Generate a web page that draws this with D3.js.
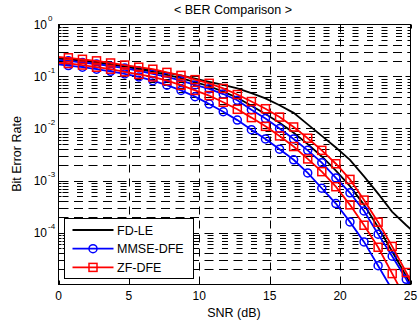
<!DOCTYPE html>
<html>
<head>
<meta charset="utf-8">
<script src="https://cdn.jsdelivr.net/npm/d3@7"></script>
<style>
  body { margin: 0; background: #fff; }
  svg { display: block; font-family: Arial, "Liberation Sans", sans-serif; }
</style>
</head>
<body>
<svg id="chart" width="419" height="325"></svg>
<script>
// SNR points (dB) where the curves were sampled
const snr = [-0.3, 0.7, 1.7, 2.7, 3.7, 4.7, 5.7, 6.7, 7.7, 8.7, 9.7, 10.7, 11.7, 12.7,
             13.7, 14.7, 15.7, 16.7, 17.7, 18.7, 19.7, 20.7, 21.7, 22.7, 23.7, 24.7, 25.7];

// BER values (two runs per equaliser)
const fdleA = [0.229, 0.219, 0.209, 0.191, 0.174, 0.158, 0.145, 0.132, 0.117, 0.105, 9.1e-2, 7.9e-2, 6.9e-2, 5.9e-2,
               4.8e-2, 3.8e-2, 2.8e-2, 2.0e-2, 1.2e-2, 7.2e-3, 4.3e-3, 2.5e-3, 1.2e-3, 5.6e-4, 2.5e-4, 1.38e-4, 7.9e-5];
const fdleB = [0.224, 0.214, 0.200, 0.186, 0.170, 0.155, 0.138, 0.123, 0.107, 9.3e-2, 7.8e-2, 6.5e-2, 5.1e-2, 3.9e-2,
               2.75e-2, 1.9e-2, 1.29e-2, 8.3e-3, 5.0e-3, 2.9e-3, 1.55e-3, 7.8e-4, 3.4e-4, 1.26e-4, 4.3e-5, 1.45e-5, 4.5e-6];
const mmseA = [0.174, 0.162, 0.151, 0.138, 0.126, 0.112, 9.8e-2, 8.3e-2, 6.8e-2, 5.4e-2, 4.1e-2, 2.95e-2, 2.1e-2, 1.45e-2,
               9.5e-3, 6.3e-3, 4.0e-3, 2.5e-3, 1.4e-3, 7.1e-4, 3.6e-4, 1.6e-4, 6.6e-5, 2.3e-5, 7.9e-6, 2.5e-6, 7.9e-7];
const mmseB = [0.209, 0.200, 0.186, 0.174, 0.158, 0.145, 0.129, 0.112, 9.8e-2, 8.3e-2, 6.9e-2, 5.8e-2, 4.6e-2, 3.5e-2,
               2.3e-2, 1.55e-2, 1.0e-2, 6.3e-3, 3.8e-3, 2.2e-3, 1.12e-3, 5.8e-4, 2.6e-4, 9.3e-5, 3.5e-5, 1.26e-5, 4.0e-6];
const zfA   = [0.186, 0.178, 0.166, 0.151, 0.138, 0.123, 0.110, 9.8e-2, 8.3e-2, 6.8e-2, 5.4e-2, 4.3e-2, 3.2e-2, 2.34e-2,
               1.62e-2, 1.1e-2, 7.2e-3, 4.5e-3, 2.6e-3, 1.48e-3, 7.6e-4, 3.4e-4, 1.38e-4, 5.2e-5, 1.62e-5, 5.0e-6, 1.6e-6];
const zfB   = [0.240, 0.229, 0.214, 0.200, 0.182, 0.166, 0.151, 0.138, 0.120, 0.105, 8.7e-2, 7.4e-2, 5.9e-2, 4.5e-2,
               3.3e-2, 2.4e-2, 1.66e-2, 1.07e-2, 6.5e-3, 3.8e-3, 2.1e-3, 1.05e-3, 4.2e-4, 1.58e-4, 5.4e-5, 1.7e-5, 5.0e-6];

const xTicks = [0, 5, 10, 15, 20, 25];
const yLabelExps = [0, -1, -2, -3, -4];
const legendLabels = ['FD-LE', 'MMSE-DFE', 'ZF-DFE'];

const svg = d3.select('#chart');
const pLeft = 58.5, pRight = 410.5, pTop = 24.5, pBottom = 284.5;

const x = d3.scaleLinear().domain([0, 25]).range([pLeft, pRight]);
const y = d3.scaleLog().domain([1e-5, 1]).range([pBottom, pTop]);

svg.append('rect').attr('width', 419).attr('height', 325).attr('fill', '#fff');

// grid
const grid = svg.append('g').attr('stroke', '#000').attr('stroke-width', 1).attr('fill', 'none');
const minorVals = [];
for (let d = -5; d < 0; d++) {
  for (let m = 2; m <= 9; m++) minorVals.push({ v: m * Math.pow(10, d), m: m });
}
grid.selectAll('.hminor').data(minorVals).enter().append('line')
  .attr('x1', pLeft).attr('x2', pRight)
  .attr('y1', d => Math.round(y(d.v)) + 0.5).attr('y2', d => Math.round(y(d.v)) + 0.5)
  .attr('stroke-dasharray', d => d.m >= 5 ? '6,8.5' : '9,5.5')
  .attr('stroke-dashoffset', d => d.m >= 5 ? -4 : -1);
grid.selectAll('.hmajor').data([1e-4, 1e-3, 1e-2, 1e-1]).enter().append('line')
  .attr('x1', pLeft).attr('x2', pRight)
  .attr('y1', d => Math.round(y(d)) + 0.5).attr('y2', d => Math.round(y(d)) + 0.5)
  .attr('stroke-dasharray', '9,5.5').attr('stroke-dashoffset', -1);
grid.selectAll('.vmajor').data([5, 10, 15, 20]).enter().append('line')
  .attr('y1', pTop).attr('y2', pBottom)
  .attr('x1', d => Math.round(x(d)) + 0.5).attr('x2', d => Math.round(x(d)) + 0.5)
  .attr('stroke-dasharray', '8,6');

// curves
svg.append('clipPath').attr('id', 'clip').append('rect')
  .attr('x', pLeft).attr('y', pTop).attr('width', pRight - pLeft).attr('height', pBottom - pTop);
const plot = svg.append('g').attr('clip-path', 'url(#clip)');
const line = d3.line().x((d, i) => x(snr[i])).y(d => y(d));

const series = [
  { vals: fdleA, color: '#000', marker: null },
  { vals: fdleB, color: '#000', marker: null },
  { vals: mmseA, color: '#0000ff', marker: 'circle' },
  { vals: mmseB, color: '#0000ff', marker: 'circle' },
  { vals: zfA, color: '#ff0000', marker: 'square' },
  { vals: zfB, color: '#ff0000', marker: 'square' }
];

function drawMarker(g, type, cx, cy, color) {
  if (type === 'circle') {
    g.append('circle').attr('cx', cx).attr('cy', cy).attr('r', 4)
      .attr('fill', 'none').attr('stroke', color).attr('stroke-width', 1.5);
  } else if (type === 'square') {
    g.append('rect').attr('x', cx - 4).attr('y', cy - 4).attr('width', 8).attr('height', 8)
      .attr('fill', 'none').attr('stroke', color).attr('stroke-width', 1.5);
  }
}

series.forEach(s => {
  plot.append('path').datum(s.vals).attr('d', line)
    .attr('fill', 'none').attr('stroke', s.color).attr('stroke-width', 1.8);
  if (s.marker) {
    const mg = plot.append('g');
    s.vals.forEach((v, i) => {
      if (snr[i] < 0 || snr[i] > 25 || v < 1e-5) return;
      drawMarker(mg, s.marker, x(snr[i]), y(v), s.color);
    });
  }
});

// axes box and ticks
const ax = svg.append('g').attr('stroke', '#000').attr('stroke-width', 1);
ax.append('rect').attr('x', pLeft).attr('y', pTop).attr('width', pRight - pLeft).attr('height', pBottom - pTop)
  .attr('fill', 'none');
xTicks.forEach(t => {
  const px = Math.round(x(t)) + 0.5;
  ax.append('line').attr('x1', px).attr('x2', px).attr('y1', pBottom).attr('y2', pBottom - 4);
  ax.append('line').attr('x1', px).attr('x2', px).attr('y1', pTop).attr('y2', pTop + 4);
});
minorVals.forEach(d => {
  const py = Math.round(y(d.v)) + 0.5;
  ax.append('line').attr('x1', pLeft).attr('x2', pLeft + 3).attr('y1', py).attr('y2', py);
  ax.append('line').attr('x1', pRight).attr('x2', pRight - 3).attr('y1', py).attr('y2', py);
});
[1e-4, 1e-3, 1e-2, 1e-1].forEach(d => {
  const py = Math.round(y(d)) + 0.5;
  ax.append('line').attr('x1', pLeft).attr('x2', pLeft + 5).attr('y1', py).attr('y2', py);
  ax.append('line').attr('x1', pRight).attr('x2', pRight - 5).attr('y1', py).attr('y2', py);
});

// tick labels
svg.selectAll('.xl').data(xTicks).enter().append('text')
  .attr('x', d => x(d)).attr('y', 300).attr('text-anchor', 'middle')
  .attr('font-size', 12).text(d => d);
yLabelExps.forEach(e => {
  const py = y(Math.pow(10, e));
  svg.append('text').attr('x', 47).attr('y', py + 4.5).attr('text-anchor', 'end')
    .attr('font-size', 12).text('10');
  svg.append('text').attr('x', 48).attr('y', py - 4).attr('font-size', 8).text(e);
});

// titles
svg.append('text').attr('x', 233).attr('y', 14).attr('text-anchor', 'middle')
  .attr('font-size', 12.5).text('< BER Comparison >');
svg.append('text').attr('x', 234).attr('y', 317).attr('text-anchor', 'middle')
  .attr('font-size', 12.5).text('SNR (dB)');
svg.append('text').attr('transform', 'translate(21,154) rotate(-90)').attr('text-anchor', 'middle')
  .attr('font-size', 12.5).text('Bit Error Rate');

// legend
const lg = svg.append('g');
lg.append('rect').attr('x', 64.5).attr('y', 218.5).attr('width', 129).attr('height', 60)
  .attr('fill', '#fff').attr('stroke', '#000').attr('stroke-width', 1);
legendLabels.forEach((lab, i) => {
  const s = series[i * 2];
  const ly = 230 + i * 18.7;
  lg.append('line').attr('x1', 72.5).attr('x2', 113.5).attr('y1', ly).attr('y2', ly)
    .attr('stroke', s.color).attr('stroke-width', 1.8);
  drawMarker(lg, s.marker, 93, ly, s.color);
  lg.append('text').attr('x', 117).attr('y', ly + 4.5).attr('font-size', 12.5).text(lab);
});
</script>
</body>
</html>
